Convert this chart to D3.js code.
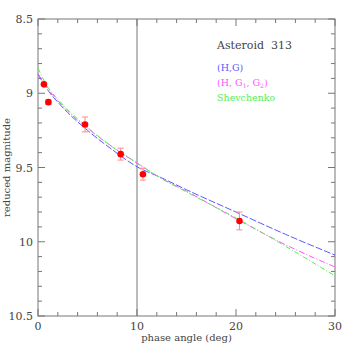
<!DOCTYPE html>
<html>
<head>
<meta charset="utf-8">
<script src="https://cdn.jsdelivr.net/npm/d3@7"></script>
<style>
  body { margin: 0; background: #fff; }
  text { font-family: "DejaVu Serif", "Liberation Serif", serif; }
</style>
</head>
<body>
<div id="chart"></div>
<script>
// observations
var obsPhase = [0.6, 1.05, 4.75, 8.35, 10.6, 20.35]
var obsMag = [8.94, 9.06, 9.21, 9.41, 9.545, 9.86]
var obsErr = [0.0, 0.015, 0.05, 0.04, 0.04, 0.06]

// model curves
var curvePhase = [0, 0.5, 1, 2, 3, 5, 7.5, 10, 12.5, 15, 20, 25, 30]
var hgMag = [8.87, 8.93, 8.98, 9.06, 9.13, 9.25, 9.38, 9.495, 9.57, 9.65, 9.80, 9.95, 10.09]
var hg1g2Mag = [8.87, 8.92, 8.97, 9.05, 9.12, 9.235, 9.36, 9.47, 9.575, 9.66, 9.845, 10.02, 10.17]
var shevMag = [8.83, 8.90, 8.96, 9.04, 9.11, 9.23, 9.36, 9.47, 9.575, 9.665, 9.84, 10.03, 10.23]

var xTicks = [0, 10, 20, 30]
var yTicks = [8.5, 9, 9.5, 10, 10.5]

var width = 354, height = 354
var marginLeft = 38, marginRight = 19, marginTop = 19, marginBottom = 38

var xScale = d3.scaleLinear([0, 30], [marginLeft, width - marginRight])
var yScale = d3.scaleLinear([8.5, 10.5], [marginTop, height - marginBottom])

var svg = d3.select("#chart")
    .append("svg")
    .attr("width", width)
    .attr("height", height)
    .attr("viewBox", [0, 0, width, height])

var axisColor = "#777"
var x0 = xScale(0), x1 = xScale(30), y0 = yScale(8.5), y1 = yScale(10.5)

// frame
svg.append("rect")
    .attr("x", x0).attr("y", y0)
    .attr("width", x1 - x0).attr("height", y1 - y0)
    .attr("fill", "none").attr("stroke", axisColor).attr("stroke-width", 1)

// ticks on all four sides, pointing inward
var ticks = svg.append("g").attr("stroke", axisColor).attr("stroke-width", 1)
d3.range(0, 30.01, 2).forEach(function(v) {
    var len = (v % 10 === 0) ? 7 : 4
    ticks.append("line").attr("x1", xScale(v)).attr("x2", xScale(v)).attr("y1", y1).attr("y2", y1 - len)
    ticks.append("line").attr("x1", xScale(v)).attr("x2", xScale(v)).attr("y1", y0).attr("y2", y0 + len)
})
d3.range(0, 21).forEach(function(i) {
    var v = 8.5 + i * 0.1
    var len = (i % 5 === 0) ? 7 : 4
    ticks.append("line").attr("x1", x0).attr("x2", x0 + len).attr("y1", yScale(v)).attr("y2", yScale(v))
    ticks.append("line").attr("x1", x1).attr("x2", x1 - len).attr("y1", yScale(v)).attr("y2", yScale(v))
})

// tick labels
svg.append("g").selectAll("text")
    .data(xTicks).join("text")
    .attr("x", d => xScale(d)).attr("y", y1 + 14)
    .attr("text-anchor", "middle").attr("font-size", 11).attr("fill", "#444")
    .text(d => d)
svg.append("g").selectAll("text")
    .data(yTicks).join("text")
    .attr("x", x0 - 5).attr("y", d => yScale(d) + 4)
    .attr("text-anchor", "end").attr("font-size", 11).attr("fill", "#444")
    .text(d => d)

// axis titles
svg.append("text")
    .attr("x", (x0 + x1) / 2).attr("y", height - 13)
    .attr("text-anchor", "middle").attr("font-size", 10).attr("fill", "#444")
    .text("phase angle (deg)")
svg.append("text")
    .attr("transform", "translate(10," + ((y0 + y1) / 2) + ") rotate(-90)")
    .attr("text-anchor", "middle").attr("font-size", 10).attr("fill", "#444")
    .text("reduced magnitude")

// vertical line at 10 deg
svg.append("line")
    .attr("x1", xScale(10)).attr("x2", xScale(10)).attr("y1", y0).attr("y2", y1)
    .attr("stroke", axisColor).attr("stroke-width", 1)

// curves
var line = d3.line()
    .x((d, i) => xScale(curvePhase[i]))
    .y(d => yScale(d))
    .curve(d3.curveMonotoneX)

var series = [
    {mag: hgMag, color: "#5a5aff", dash: "7,2"},
    {mag: hg1g2Mag, color: "#ff55ff", dash: "6,2,1,2"},
    {mag: shevMag, color: "#55ee55", dash: "5,2,1,2"}
]
series.forEach(function(s) {
    svg.append("path")
        .attr("d", line(s.mag))
        .attr("fill", "none")
        .attr("stroke", s.color)
        .attr("stroke-width", 1)
        .attr("stroke-dasharray", s.dash)
})

// error bars
var eb = svg.append("g").attr("stroke", "#ff8888").attr("stroke-width", 1)
obsPhase.forEach(function(p, i) {
    if (obsErr[i] <= 0) return
    var cx = xScale(p)
    var ya = yScale(obsMag[i] - obsErr[i]), yb = yScale(obsMag[i] + obsErr[i])
    eb.append("line").attr("x1", cx).attr("x2", cx).attr("y1", ya).attr("y2", yb)
    eb.append("line").attr("x1", cx - 3).attr("x2", cx + 3).attr("y1", ya).attr("y2", ya)
    eb.append("line").attr("x1", cx - 3).attr("x2", cx + 3).attr("y1", yb).attr("y2", yb)
})

// points
svg.append("g").selectAll("circle")
    .data(obsPhase).join("circle")
    .attr("cx", d => xScale(d))
    .attr("cy", (d, i) => yScale(obsMag[i]))
    .attr("r", 3.3)
    .attr("fill", "#ff0000")

// legend
var lx = 217
svg.append("text").attr("x", lx).attr("y", 49).attr("font-size", 11).attr("fill", "#444")
    .attr("xml:space", "preserve").text("Asteroid  313")
svg.append("text").attr("x", lx).attr("y", 71).attr("font-size", 9.5).attr("fill", "#5a5aff")
    .text("(H,G)")
var t2 = svg.append("text").attr("x", lx).attr("y", 86).attr("font-size", 9.5).attr("fill", "#ff55ff")
t2.append("tspan").text("(H, G")
t2.append("tspan").attr("font-size", 6).attr("dy", 2).text("1")
t2.append("tspan").attr("dy", -2).text(", G")
t2.append("tspan").attr("font-size", 6).attr("dy", 2).text("2")
t2.append("tspan").attr("dy", -2).text(")")
svg.append("text").attr("x", lx).attr("y", 101).attr("font-size", 9.5).attr("fill", "#55ee55")
    .text("Shevchenko")
</script>
</body>
</html>
